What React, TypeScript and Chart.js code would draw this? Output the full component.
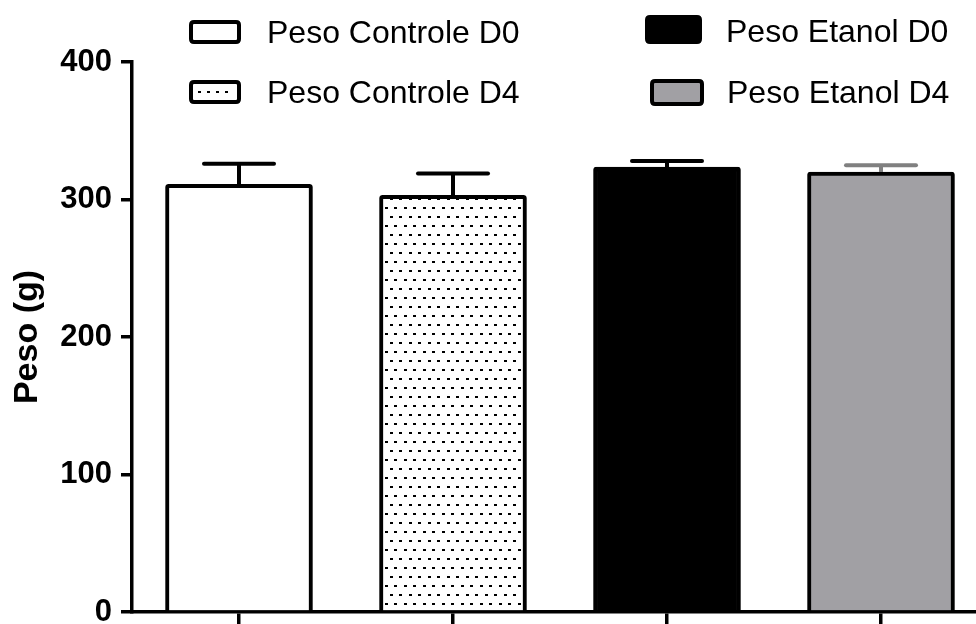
import React, { useEffect, useRef } from "react";
import { Chart, registerables } from "chart.js";

Chart.register(...registerables);

const categories = ["Peso Controle D0", "Peso Controle D4", "Peso Etanol D0", "Peso Etanol D4"];
const meanValues = [311, 303, 323.5, 320];
const semValues = [15, 16, 4.5, 5];
const yTicks = [0, 100, 200, 300, 400];
const fillColors = ["#ffffff", "pattern", "#000000", "#a1a0a4"];
const errorColors = ["#000000", "#000000", "#000000", "#808080"];

const FONT = "'Liberation Sans', Arial, Helvetica, sans-serif";

function makeDotPattern(ctx: CanvasRenderingContext2D) {
  const c = document.createElement("canvas");
  c.width = 19;
  c.height = 18;
  const g = c.getContext("2d")!;
  g.fillStyle = "#ffffff";
  g.fillRect(0, 0, 19, 18);
  g.fillStyle = "#000000";
  g.fillRect(0, 0, 3, 2);
  g.fillRect(10, 0, 3, 2);
  g.fillRect(5, 9, 3, 2);
  g.fillRect(14, 9, 3, 2);
  return ctx.createPattern(c, "repeat")!;
}

function roundRect(ctx: CanvasRenderingContext2D, x: number, y: number, w: number, h: number, r: number) {
  ctx.beginPath();
  ctx.moveTo(x + r, y);
  ctx.lineTo(x + w - r, y);
  ctx.quadraticCurveTo(x + w, y, x + w, y + r);
  ctx.lineTo(x + w, y + h - r);
  ctx.quadraticCurveTo(x + w, y + h, x + w - r, y + h);
  ctx.lineTo(x + r, y + h);
  ctx.quadraticCurveTo(x, y + h, x, y + h - r);
  ctx.lineTo(x, y + r);
  ctx.quadraticCurveTo(x, y, x + r, y);
  ctx.closePath();
}

const errorBarPlugin = {
  id: "errorBars",
  afterDatasetsDraw(chart: any) {
    const { ctx, scales } = chart;
    const xs = scales.x;
    const ys = scales.y;
    ctx.save();
    meanValues.forEach((v, i) => {
      const x = xs.getPixelForValue(i);
      const y0 = ys.getPixelForValue(v);
      const y1 = ys.getPixelForValue(v + semValues[i]);
      ctx.strokeStyle = errorColors[i];
      ctx.lineWidth = 4;
      ctx.lineCap = "butt";
      ctx.beginPath();
      ctx.moveTo(x, y0);
      ctx.lineTo(x, y1);
      ctx.stroke();
      ctx.lineCap = "round";
      ctx.beginPath();
      ctx.moveTo(x - 35, y1);
      ctx.lineTo(x + 35, y1);
      ctx.stroke();
    });
    ctx.restore();
  },
};

const legendPlugin = {
  id: "customLegend",
  afterDraw(chart: any) {
    const ctx: CanvasRenderingContext2D = chart.ctx;
    const items = [
      { i: 0, bx: 191, by: 22, bw: 48, bh: 20, tx: 267, ty: 43 },
      { i: 1, bx: 191, by: 82, bw: 48, bh: 20, tx: 267, ty: 103 },
      { i: 2, bx: 647, by: 17, bw: 53, bh: 25, tx: 726, ty: 42 },
      { i: 3, bx: 652, by: 81, bw: 50, bh: 23, tx: 727, ty: 103 },
    ];
    ctx.save();
    items.forEach((it) => {
      const ds = chart.data.datasets[it.i];
      roundRect(ctx, it.bx, it.by, it.bw, it.bh, 3);
      ctx.fillStyle = it.i === 1 ? "#ffffff" : (ds.backgroundColor as string);
      ctx.fill();
      if (it.i === 1) {
        ctx.fillStyle = "#000000";
        for (let dx = it.bx + 7; dx < it.bx + it.bw - 6; dx += 9) {
          ctx.fillRect(dx, it.by + it.bh / 2 - 1, 3, 2);
        }
      }
      ctx.lineWidth = 4;
      ctx.strokeStyle = "#000000";
      ctx.stroke();
      ctx.fillStyle = "#000000";
      ctx.font = `32px ${FONT}`;
      ctx.textBaseline = "alphabetic";
      ctx.textAlign = "left";
      ctx.fillText(ds.label, it.tx, it.ty);
    });
    ctx.restore();
  },
};

export default function App() {
  const ref = useRef<HTMLCanvasElement | null>(null);
  useEffect(() => {
    document.body.style.margin = "0";
    const canvas = ref.current!;
    const ctx = canvas.getContext("2d")!;
    const pattern = makeDotPattern(ctx);
    const chart = new Chart(canvas, {
      type: "bar",
      data: {
        datasets: categories.map((label, i) => ({
          label,
          data: [{ x: i, y: meanValues[i] }],
          backgroundColor: fillColors[i] === "pattern" ? (pattern as any) : fillColors[i],
          borderColor: "#000000",
          borderWidth: 4,
          borderRadius: 3,
          borderSkipped: "start",
          barThickness: 147,
          grouped: false,
        })) as any,
      },
      options: {
        animation: false,
        responsive: false,
        devicePixelRatio: 1,
        layout: { padding: { top: 62, left: 0, right: 0, bottom: 0 } },
        plugins: {
          legend: { display: false },
          tooltip: { enabled: false },
        },
        scales: {
          x: {
            type: "linear",
            offset: false,
            min: -0.5,
            max: -0.5 + (976 - 132) / 214,
            afterBuildTicks: (scale: any) => {
              scale.ticks = categories.map((_, i) => ({ value: i }));
            },
            afterFit: (scale: any) => {
              scale.height = 12;
              scale.paddingLeft = 0;
              scale.paddingRight = 0;
            },
            ticks: { display: false },
            grid: {
              offset: false,
              drawOnChartArea: false,
              drawTicks: true,
              tickLength: 12,
              lineWidth: 3.5,
              color: "#000000",
            },
            border: { display: true, color: "#000000", width: 3.5 },
          },
          y: {
            type: "linear",
            min: yTicks[0],
            max: yTicks[yTicks.length - 1],
            afterBuildTicks: (scale: any) => {
              scale.ticks = yTicks.map((v) => ({ value: v }));
            },
            afterFit: (scale: any) => {
              scale.width = 132;
              scale.paddingTop = 0;
              scale.paddingBottom = 0;
            },
            ticks: {
              color: "#000000",
              padding: 9,
              font: { family: FONT, size: 31, weight: "bold" },
            },
            grid: {
              drawOnChartArea: false,
              drawTicks: true,
              tickLength: 11,
              lineWidth: 3.5,
              color: "#000000",
            },
            border: { display: true, color: "#000000", width: 3.5 },
            title: {
              display: true,
              text: "Peso (g)",
              color: "#000000",
              font: { family: FONT, size: 34, weight: "bold" },
              padding: { top: 7, bottom: 0 },
            },
          },
        },
      },
      plugins: [errorBarPlugin, legendPlugin],
    });
    return () => chart.destroy();
  }, []);
  return (
    <div style={{ width: 976, height: 624 }}>
      <canvas ref={ref} width={976} height={624} style={{ display: "block" }} />
    </div>
  );
}
